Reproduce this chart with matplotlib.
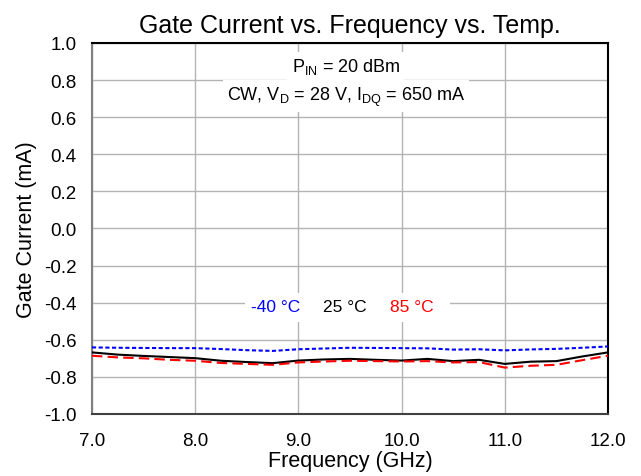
import matplotlib
matplotlib.use("Agg")
import matplotlib.pyplot as plt
from matplotlib.patches import Rectangle

plt.rcParams["font.family"] = "Liberation Sans"
plt.rcParams["mathtext.fontset"] = "custom"
plt.rcParams["mathtext.rm"] = "Liberation Sans"

# --- data ---
freq = [7.0, 7.25, 7.5, 7.75, 8.0, 8.25, 8.5, 8.75, 9.0, 9.25, 9.5,
        9.75, 10.0, 10.25, 10.5, 10.75, 11.0, 11.25, 11.5, 11.75, 12.0]
ig_m40 = [-0.641, -0.643, -0.644, -0.645, -0.645, -0.650, -0.656, -0.660, -0.651, -0.647, -0.643,
          -0.644, -0.645, -0.646, -0.653, -0.651, -0.657, -0.652, -0.649, -0.643, -0.636]
ig_25 = [-0.668, -0.680, -0.687, -0.693, -0.699, -0.713, -0.720, -0.726, -0.712, -0.706, -0.703,
         -0.708, -0.712, -0.703, -0.715, -0.708, -0.730, -0.718, -0.715, -0.690, -0.668]
ig_85 = [-0.686, -0.695, -0.700, -0.708, -0.713, -0.725, -0.730, -0.735, -0.722, -0.717, -0.713,
         -0.715, -0.717, -0.715, -0.722, -0.720, -0.750, -0.740, -0.735, -0.710, -0.686]

xticks = [7, 8, 9, 10, 11, 12]
xlabels = ["7.0", "8.0", "9.0", "10.0", "11.0", "12.0"]
yticks = [-1.0, -0.8, -0.6, -0.4, -0.2, 0.0, 0.2, 0.4, 0.6, 0.8, 1.0]
ylabels = ["-1.0", "-0.8", "-0.6", "-0.4", "-0.2", "0.0", "0.2", "0.4", "0.6", "0.8", "1.0"]

fig = plt.figure(figsize=(6.41, 4.77), dpi=100)
ax = fig.add_axes([0.1435, 0.13, 0.805, 0.7778])

ax.plot(freq, ig_m40, color="blue", lw=1.5, ls=(0, (2, 1.2)), zorder=3)
ax.plot(freq, ig_25, color="black", lw=1.5, zorder=3)
ax.plot(freq, ig_85, color="red", lw=1.5, ls=(0, (5, 2.5)), zorder=3)

ax.set_xlim(7, 12)
ax.set_ylim(-1, 1)
ax.set_xticks(xticks)
ax.set_xticklabels(xlabels)
ax.set_yticks(yticks)
ax.set_yticklabels(ylabels)
ax.tick_params(length=0, labelsize=13.5)
ax.tick_params(axis="x", pad=13)
ax.tick_params(axis="y", pad=11)
ax.grid(True, color="#b4b4b4", lw=1)

ax.spines["left"].set_color("#808080")
ax.spines["bottom"].set_color("#404040")
for s in ["top", "right"]:
    ax.spines[s].set_color("black")
for s in ax.spines.values():
    s.set_linewidth(1.5)

ax.set_title("Gate Current vs. Frequency vs. Temp.", fontsize=18, pad=8)
ax.set_xlabel("Frequency (GHz)", fontsize=15.5, labelpad=1)
ax.set_ylabel("Gate Current (mA)", fontsize=15.5, labelpad=5)

box = dict(facecolor="white", edgecolor="none", pad=3)
ax.text(9.46, 0.876, r"P$_{\mathregular{IN}}$ = 20 dBm", ha="center", va="center",
        fontsize=13, bbox=box)
ax.text(9.46, 0.714, r"CW, V$_{\mathregular{D}}$ = 28 V, I$_{\mathregular{DQ}}$ = 650 mA",
        ha="center", va="center", fontsize=13, bbox=box)

# white patch behind the temperature labels
ax.add_patch(Rectangle((8.483, -0.504), 10.469 - 8.483, 0.156,
                       facecolor="white", edgecolor="none", zorder=2))
ax.text(8.78, -0.423, "-40 °C", color="blue", ha="center", va="center", fontsize=12.5, zorder=4)
ax.text(9.45, -0.423, "25 °C", color="black", ha="center", va="center", fontsize=12.5, zorder=4)
ax.text(10.1, -0.423, "85 °C", color="red", ha="center", va="center", fontsize=12.5, zorder=4)

fig.savefig("out.png", dpi=100)
